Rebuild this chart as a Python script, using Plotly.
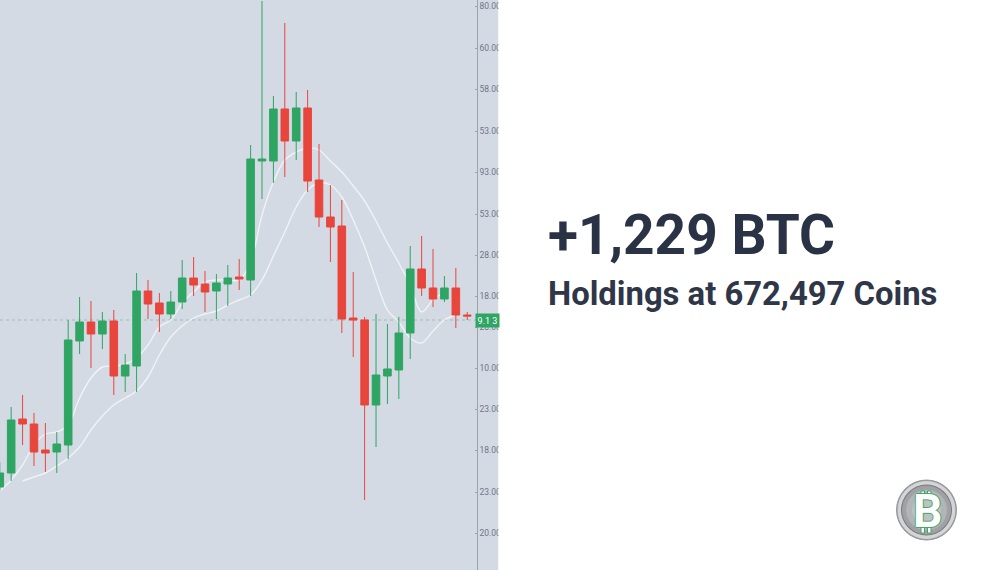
import plotly.graph_objects as go

# --- DATA (price units) ---
idx = list(range(42))
opens = [83, 97, 151, 146, 120, 118, 125, 229, 248, 236, 249, 194, 204, 279, 267, 256, 268, 292, 286, 279, 286,
         293, 290, 409, 409, 461, 429, 462, 390, 353, 344, 252, 250, 165, 194, 200, 237, 301, 282, 271, 282, 255]
closes = [97, 150, 146, 118, 117, 126, 230, 248, 236, 249, 194, 205, 279, 266, 256, 268, 292, 285, 278, 287, 292,
          291, 411, 411, 461, 429, 462, 389, 353, 343, 251, 250, 165, 195, 201, 237, 301, 282, 271, 282, 255, 254]
highs = [108, 163, 175, 157, 147, 138, 250, 273, 269, 258, 260, 216, 297, 290, 277, 279, 310, 313, 299, 296, 305,
         311, 425, 569, 474, 547, 478, 480, 426, 385, 370, 298, 253, 256, 246, 253, 324, 334, 321, 294, 302, 258]
lows = [79, 89, 125, 104, 98, 97, 111, 216, 202, 221, 175, 178, 178, 251, 238, 251, 261, 274, 258, 251, 264,
        280, 274, 371, 387, 393, 410, 378, 343, 308, 237, 213, 70, 123, 166, 171, 211, 274, 263, 268, 242, 250]
ma_fast = [79, 90, 105, 125, 136, 138, 145, 172, 192, 203, 204, 206, 212, 225, 243, 250, 267, 278, 288, 290, 290,
           290, 308, 355, 388, 410, 418, 422, 420, 409, 398, 384, 369, 349, 327, 307, 285, 258, 270, 278]
ma_slow = [None, None, 89, 93, 97, 104, 112, 123, 140, 154, 165, 172, 179, 193, 215, 233, 244, 252, 256, 259, 265,
           270, 275, 290, 314, 338, 363, 380, 387, 385, 373, 350, 323, 290, 260, 248, 232, 227, 239, 250, 255]
last_price = 250

tick_vals = [564, 522, 481, 439, 398, 356, 315, 274, 243, 202, 161, 120, 78, 37]
tick_text = ["80.00", "60.00", "58.00", "53.00", "93.00", "53.00", "28.00",
             "18.00", "28.00", "10.00", "23.00", "18.00", "23.00", "20.00"]

W, H = 997, 570
BG = "#D4DAE4"
GREEN = "#2EA563"
RED = "#E8453C"
INK = "#2A3246"
COIN_GREEN = "#3FA968"
X_RANGE = [0.02, 41.83]
Y_RANGE = [0, 570]


def circle(cx, cy, r, color):
    return dict(type="circle", xref="paper", yref="paper", layer="above",
                x0=(cx - r) / W, x1=(cx + r) / W, y0=1 - (cy + r) / H, y1=1 - (cy - r) / H,
                fillcolor=color, line=dict(color=color, width=1))


def coin_bar(x0, x1, y0, y1):
    return dict(type="rect", xref="paper", yref="paper", layer="above",
                x0=x0 / W, x1=x1 / W, y0=1 - y1 / H, y1=1 - y0 / H,
                fillcolor="white", line=dict(color=COIN_GREEN, width=1))


fig = go.Figure()

# moving averages sit on the base axes so the candles cover them
ma_line = dict(color="rgba(255,255,255,0.65)", width=1.4, shape="spline")
fig.add_trace(go.Scatter(x=idx, y=ma_fast, mode="lines", line=ma_line))
fig.add_trace(go.Scatter(x=idx, y=ma_slow, mode="lines", line=ma_line))

fig.add_trace(go.Candlestick(
    x=idx, open=opens, high=highs, low=lows, close=closes, xaxis="x2", yaxis="y2", whiskerwidth=0,
    increasing=dict(line=dict(color=GREEN, width=1), fillcolor=GREEN),
    decreasing=dict(line=dict(color=RED, width=1), fillcolor=RED),
))

shapes = [
    # chart panel with the price axis band
    dict(type="rect", xref="paper", yref="paper", layer="below", x0=0, x1=498.5 / W, y0=0, y1=1, fillcolor=BG, line_width=0),
    dict(type="line", xref="paper", yref="y", layer="below", x0=0, x1=476.7 / W, y0=last_price, y1=last_price,
         line=dict(color="#93C2B4", width=1, dash="dot")),
    # hides the ends of the tick labels, as in the picture
    dict(type="rect", xref="paper", yref="paper", layer="above", x0=498.5 / W, x1=1, y0=0, y1=1, fillcolor="white", line_width=0),
    # coin
    circle(926.5, 510, 30, "#96989B"),
    circle(926.5, 510, 28.5, "#D4D5D7"),
    circle(926.5, 510, 25, "#77797D"),
    circle(926.5, 510, 24, "#9FA1A4"),
    circle(926.5, 510, 20, "#B2B4B6"),
    circle(926.5, 510, 14, "#BFC1C3"),
    coin_bar(921, 924.5, 491, 499),
    coin_bar(927.5, 931, 491, 499),
    coin_bar(921, 924.5, 525, 533),
    coin_bar(927.5, 931, 525, 533),
]

annotations = [
    dict(x=546 / W, y=1 - 235 / H, xref="paper", yref="paper", xanchor="left", yanchor="middle", showarrow=False,
         text="<b>+1,229 BTC</b>", font=dict(family="Roboto", size=55, color=INK)),
    dict(x=546 / W, y=1 - 294 / H, xref="paper", yref="paper", xanchor="left", yanchor="middle", showarrow=False,
         text="<b>Holdings at 672,497 Coins</b>", font=dict(family="Roboto", size=32.8, color="#2E3648")),
    dict(x=487 / W, y=last_price - 0.5, xref="paper", yref="y", xanchor="center", yanchor="middle", showarrow=False,
         text="9.1 3", width=23, height=13, bgcolor=GREEN, borderpad=0,
         font=dict(family="Roboto", size=9, color="white")),
    dict(x=927.5 / W, y=1 - 511 / H, xref="paper", yref="paper", xanchor="center", yanchor="middle", showarrow=False,
         text="<b>B</b>", font=dict(family="Roboto", size=46, color="white",
                                    shadow="1px 0 #3FA968, -1px 0 #3FA968, 0 1px #3FA968, 0 -1px #3FA968")),
]

fig.update_layout(
    width=W, height=H, margin=dict(l=0, r=0, t=0, b=0), showlegend=False,
    paper_bgcolor="white", plot_bgcolor="rgba(0,0,0,0)", shapes=shapes, annotations=annotations,
    boxgap=0.05,
    xaxis=dict(domain=[0, 476.7 / W], range=X_RANGE, visible=False),
    yaxis=dict(range=Y_RANGE, side="right", tickvals=tick_vals, ticktext=tick_text, ticks="inside", ticklen=2,
               tickcolor="#9AA3B0", showgrid=False, zeroline=False, showline=True, linecolor="#9AA3B0", linewidth=1,
               tickfont=dict(family="Roboto", size=8.5, color="#6E7686")),
    xaxis2=dict(domain=[0, 476.7 / W], range=X_RANGE, visible=False, overlaying="x", rangeslider=dict(visible=False)),
    yaxis2=dict(range=Y_RANGE, visible=False, overlaying="y"),
)

fig.write_html("out.html", config=dict(displayModeBar=False), post_script="document.body.style.margin='0';")
